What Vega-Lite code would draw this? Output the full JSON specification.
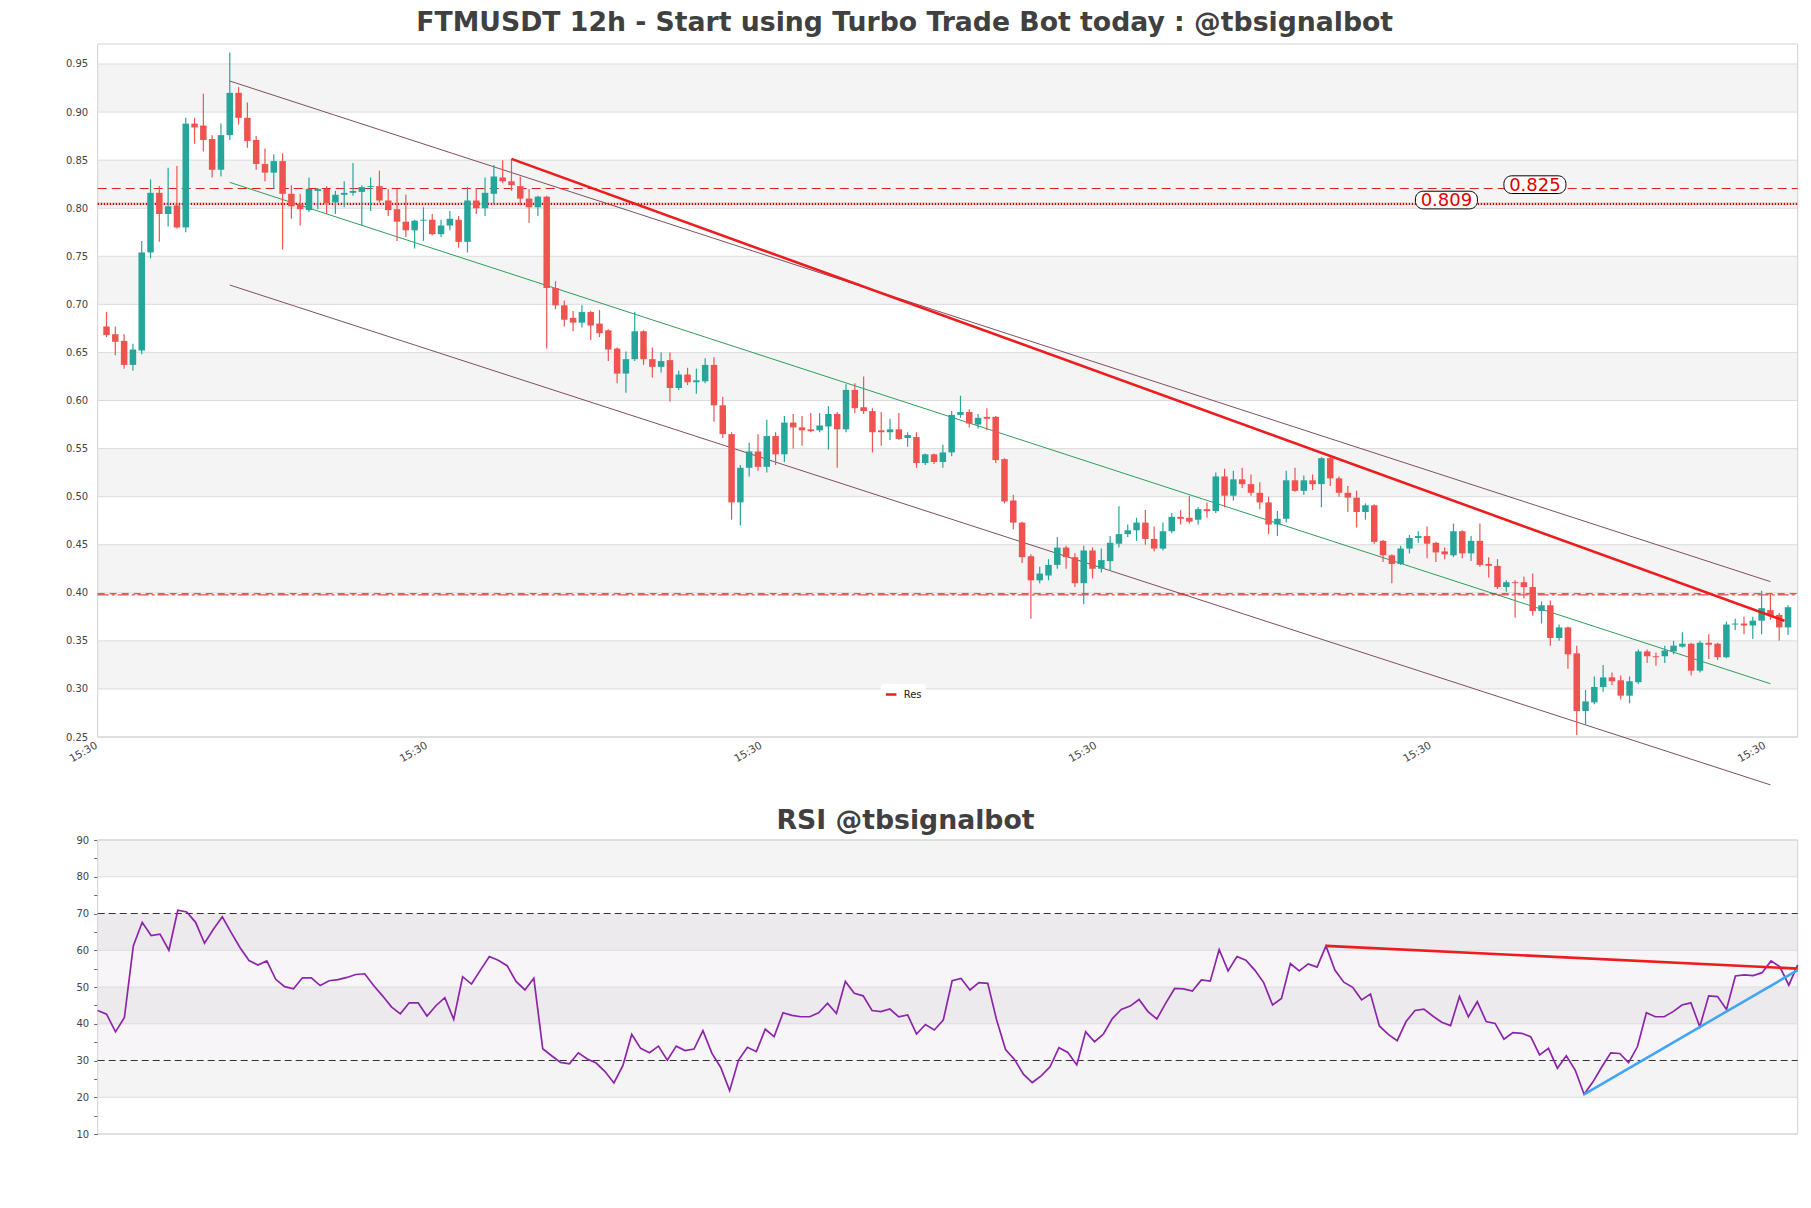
{
"$schema": "https://vega.github.io/schema/vega-lite/v6.json",
"width": 1700,
"height": 1090,
"autosize": {"type": "none"},
"padding": {"left": 97.7, "top": 44, "right": 13.3, "bottom": 74},
"background": "#ffffff",
"config": {"font": "DejaVu Sans", "view": {"stroke": null}, "axis": {"labelFont": "DejaVu Sans"}, "legend": {"labelFont": "DejaVu Sans"}},
"title": {"text": "FTMUSDT 12h - Start using Turbo Trade Bot today : @tbsignalbot", "anchor": "middle", "frame": "group", "dx": -43, "offset": -14.5, "baseline": "alphabetic", "fontSize": 26.7, "fontWeight": "bold", "color": "#404040", "font": "DejaVu Sans"},
"datasets": {
"candles": [
{"i":0,"o":0.677,"h":0.692,"l":0.666,"c":0.668},
{"i":1,"o":0.669,"h":0.677,"l":0.647,"c":0.661},
{"i":2,"o":0.662,"h":0.669,"l":0.633,"c":0.637},
{"i":3,"o":0.637,"h":0.659,"l":0.631,"c":0.653},
{"i":4,"o":0.652,"h":0.766,"l":0.648,"c":0.754},
{"i":5,"o":0.754,"h":0.830,"l":0.748,"c":0.816},
{"i":6,"o":0.816,"h":0.823,"l":0.765,"c":0.794},
{"i":7,"o":0.794,"h":0.842,"l":0.781,"c":0.802},
{"i":8,"o":0.803,"h":0.844,"l":0.779,"c":0.780},
{"i":9,"o":0.780,"h":0.894,"l":0.775,"c":0.888},
{"i":10,"o":0.888,"h":0.894,"l":0.867,"c":0.884},
{"i":11,"o":0.886,"h":0.919,"l":0.859,"c":0.871},
{"i":12,"o":0.872,"h":0.876,"l":0.832,"c":0.840},
{"i":13,"o":0.840,"h":0.888,"l":0.833,"c":0.876},
{"i":14,"o":0.876,"h":0.962,"l":0.871,"c":0.920},
{"i":15,"o":0.920,"h":0.926,"l":0.887,"c":0.894},
{"i":16,"o":0.894,"h":0.910,"l":0.863,"c":0.870},
{"i":17,"o":0.871,"h":0.875,"l":0.840,"c":0.846},
{"i":18,"o":0.846,"h":0.862,"l":0.828,"c":0.837},
{"i":19,"o":0.837,"h":0.856,"l":0.820,"c":0.849},
{"i":20,"o":0.849,"h":0.857,"l":0.757,"c":0.815},
{"i":21,"o":0.815,"h":0.824,"l":0.789,"c":0.802},
{"i":22,"o":0.804,"h":0.815,"l":0.782,"c":0.799},
{"i":23,"o":0.798,"h":0.832,"l":0.796,"c":0.820},
{"i":24,"o":0.818,"h":0.821,"l":0.799,"c":0.820},
{"i":25,"o":0.820,"h":0.823,"l":0.794,"c":0.805},
{"i":26,"o":0.806,"h":0.818,"l":0.794,"c":0.814},
{"i":27,"o":0.814,"h":0.828,"l":0.801,"c":0.816},
{"i":28,"o":0.816,"h":0.847,"l":0.813,"c":0.818},
{"i":29,"o":0.817,"h":0.824,"l":0.782,"c":0.822},
{"i":30,"o":0.822,"h":0.832,"l":0.797,"c":0.823},
{"i":31,"o":0.823,"h":0.839,"l":0.806,"c":0.808},
{"i":32,"o":0.808,"h":0.820,"l":0.792,"c":0.798},
{"i":33,"o":0.799,"h":0.820,"l":0.766,"c":0.786},
{"i":34,"o":0.786,"h":0.814,"l":0.770,"c":0.777},
{"i":35,"o":0.777,"h":0.788,"l":0.758,"c":0.787},
{"i":36,"o":0.787,"h":0.801,"l":0.766,"c":0.788},
{"i":37,"o":0.788,"h":0.794,"l":0.772,"c":0.773},
{"i":38,"o":0.773,"h":0.788,"l":0.770,"c":0.782},
{"i":39,"o":0.782,"h":0.797,"l":0.777,"c":0.789},
{"i":40,"o":0.788,"h":0.792,"l":0.759,"c":0.765},
{"i":41,"o":0.765,"h":0.822,"l":0.754,"c":0.808},
{"i":42,"o":0.808,"h":0.821,"l":0.794,"c":0.800},
{"i":43,"o":0.800,"h":0.832,"l":0.792,"c":0.816},
{"i":44,"o":0.815,"h":0.845,"l":0.804,"c":0.833},
{"i":45,"o":0.832,"h":0.850,"l":0.826,"c":0.828},
{"i":46,"o":0.828,"h":0.851,"l":0.818,"c":0.824},
{"i":47,"o":0.823,"h":0.833,"l":0.803,"c":0.810},
{"i":48,"o":0.810,"h":0.820,"l":0.785,"c":0.801},
{"i":49,"o":0.801,"h":0.813,"l":0.792,"c":0.812},
{"i":50,"o":0.812,"h":0.813,"l":0.654,"c":0.717},
{"i":51,"o":0.717,"h":0.724,"l":0.695,"c":0.699},
{"i":52,"o":0.699,"h":0.704,"l":0.677,"c":0.684},
{"i":53,"o":0.686,"h":0.693,"l":0.672,"c":0.681},
{"i":54,"o":0.681,"h":0.699,"l":0.676,"c":0.692},
{"i":55,"o":0.692,"h":0.693,"l":0.663,"c":0.678},
{"i":56,"o":0.680,"h":0.694,"l":0.666,"c":0.670},
{"i":57,"o":0.673,"h":0.674,"l":0.641,"c":0.653},
{"i":58,"o":0.654,"h":0.655,"l":0.618,"c":0.628},
{"i":59,"o":0.628,"h":0.651,"l":0.608,"c":0.643},
{"i":60,"o":0.643,"h":0.692,"l":0.641,"c":0.672},
{"i":61,"o":0.672,"h":0.673,"l":0.637,"c":0.643},
{"i":62,"o":0.643,"h":0.655,"l":0.624,"c":0.635},
{"i":63,"o":0.635,"h":0.650,"l":0.629,"c":0.641},
{"i":64,"o":0.642,"h":0.650,"l":0.599,"c":0.613},
{"i":65,"o":0.613,"h":0.631,"l":0.611,"c":0.627},
{"i":66,"o":0.627,"h":0.634,"l":0.616,"c":0.619},
{"i":67,"o":0.619,"h":0.633,"l":0.607,"c":0.621},
{"i":68,"o":0.620,"h":0.644,"l":0.618,"c":0.637},
{"i":69,"o":0.637,"h":0.645,"l":0.578,"c":0.595},
{"i":70,"o":0.595,"h":0.604,"l":0.561,"c":0.565},
{"i":71,"o":0.565,"h":0.567,"l":0.476,"c":0.494},
{"i":72,"o":0.494,"h":0.533,"l":0.470,"c":0.530},
{"i":73,"o":0.530,"h":0.556,"l":0.521,"c":0.547},
{"i":74,"o":0.547,"h":0.565,"l":0.527,"c":0.531},
{"i":75,"o":0.531,"h":0.580,"l":0.525,"c":0.563},
{"i":76,"o":0.563,"h":0.567,"l":0.533,"c":0.544},
{"i":77,"o":0.544,"h":0.584,"l":0.536,"c":0.577},
{"i":78,"o":0.577,"h":0.586,"l":0.550,"c":0.572},
{"i":79,"o":0.572,"h":0.584,"l":0.553,"c":0.569},
{"i":80,"o":0.570,"h":0.587,"l":0.567,"c":0.568},
{"i":81,"o":0.569,"h":0.587,"l":0.567,"c":0.574},
{"i":82,"o":0.573,"h":0.594,"l":0.549,"c":0.586},
{"i":83,"o":0.586,"h":0.588,"l":0.530,"c":0.570},
{"i":84,"o":0.570,"h":0.617,"l":0.567,"c":0.611},
{"i":85,"o":0.611,"h":0.618,"l":0.587,"c":0.592},
{"i":86,"o":0.593,"h":0.625,"l":0.586,"c":0.589},
{"i":87,"o":0.589,"h":0.592,"l":0.546,"c":0.567},
{"i":88,"o":0.569,"h":0.588,"l":0.553,"c":0.567},
{"i":89,"o":0.567,"h":0.581,"l":0.559,"c":0.570},
{"i":90,"o":0.570,"h":0.587,"l":0.559,"c":0.560},
{"i":91,"o":0.561,"h":0.567,"l":0.552,"c":0.564},
{"i":92,"o":0.562,"h":0.567,"l":0.530,"c":0.535},
{"i":93,"o":0.535,"h":0.545,"l":0.533,"c":0.544},
{"i":94,"o":0.544,"h":0.545,"l":0.534,"c":0.536},
{"i":95,"o":0.536,"h":0.554,"l":0.530,"c":0.546},
{"i":96,"o":0.546,"h":0.589,"l":0.542,"c":0.585},
{"i":97,"o":0.585,"h":0.605,"l":0.582,"c":0.588},
{"i":98,"o":0.588,"h":0.591,"l":0.572,"c":0.576},
{"i":99,"o":0.575,"h":0.586,"l":0.571,"c":0.582},
{"i":100,"o":0.583,"h":0.592,"l":0.569,"c":0.581},
{"i":101,"o":0.583,"h":0.584,"l":0.535,"c":0.538},
{"i":102,"o":0.539,"h":0.540,"l":0.493,"c":0.495},
{"i":103,"o":0.496,"h":0.502,"l":0.466,"c":0.473},
{"i":104,"o":0.473,"h":0.474,"l":0.431,"c":0.437},
{"i":105,"o":0.438,"h":0.440,"l":0.373,"c":0.413},
{"i":106,"o":0.413,"h":0.427,"l":0.410,"c":0.420},
{"i":107,"o":0.418,"h":0.435,"l":0.413,"c":0.429},
{"i":108,"o":0.429,"h":0.458,"l":0.425,"c":0.447},
{"i":109,"o":0.447,"h":0.449,"l":0.425,"c":0.437},
{"i":110,"o":0.437,"h":0.441,"l":0.406,"c":0.410},
{"i":111,"o":0.410,"h":0.449,"l":0.388,"c":0.444},
{"i":112,"o":0.444,"h":0.447,"l":0.415,"c":0.425},
{"i":113,"o":0.425,"h":0.446,"l":0.421,"c":0.434},
{"i":114,"o":0.433,"h":0.459,"l":0.423,"c":0.452},
{"i":115,"o":0.451,"h":0.490,"l":0.447,"c":0.461},
{"i":116,"o":0.461,"h":0.471,"l":0.458,"c":0.465},
{"i":117,"o":0.465,"h":0.478,"l":0.454,"c":0.473},
{"i":118,"o":0.473,"h":0.486,"l":0.450,"c":0.456},
{"i":119,"o":0.456,"h":0.469,"l":0.443,"c":0.446},
{"i":120,"o":0.446,"h":0.473,"l":0.444,"c":0.464},
{"i":121,"o":0.464,"h":0.483,"l":0.462,"c":0.479},
{"i":122,"o":0.479,"h":0.486,"l":0.471,"c":0.477},
{"i":123,"o":0.478,"h":0.501,"l":0.472,"c":0.474},
{"i":124,"o":0.476,"h":0.489,"l":0.471,"c":0.487},
{"i":125,"o":0.487,"h":0.494,"l":0.478,"c":0.485},
{"i":126,"o":0.485,"h":0.525,"l":0.483,"c":0.521},
{"i":127,"o":0.521,"h":0.529,"l":0.489,"c":0.501},
{"i":128,"o":0.501,"h":0.527,"l":0.496,"c":0.518},
{"i":129,"o":0.518,"h":0.530,"l":0.509,"c":0.513},
{"i":130,"o":0.513,"h":0.523,"l":0.501,"c":0.504},
{"i":131,"o":0.504,"h":0.515,"l":0.487,"c":0.494},
{"i":132,"o":0.494,"h":0.500,"l":0.461,"c":0.471},
{"i":133,"o":0.471,"h":0.485,"l":0.459,"c":0.477},
{"i":134,"o":0.477,"h":0.527,"l":0.473,"c":0.517},
{"i":135,"o":0.517,"h":0.530,"l":0.505,"c":0.506},
{"i":136,"o":0.506,"h":0.522,"l":0.502,"c":0.517},
{"i":137,"o":0.517,"h":0.523,"l":0.507,"c":0.513},
{"i":138,"o":0.513,"h":0.541,"l":0.489,"c":0.540},
{"i":139,"o":0.540,"h":0.543,"l":0.511,"c":0.519},
{"i":140,"o":0.519,"h":0.521,"l":0.500,"c":0.504},
{"i":141,"o":0.504,"h":0.511,"l":0.484,"c":0.499},
{"i":142,"o":0.499,"h":0.506,"l":0.468,"c":0.484},
{"i":143,"o":0.484,"h":0.493,"l":0.476,"c":0.491},
{"i":144,"o":0.491,"h":0.492,"l":0.451,"c":0.453},
{"i":145,"o":0.454,"h":0.455,"l":0.432,"c":0.439},
{"i":146,"o":0.439,"h":0.440,"l":0.410,"c":0.430},
{"i":147,"o":0.430,"h":0.449,"l":0.429,"c":0.446},
{"i":148,"o":0.446,"h":0.460,"l":0.441,"c":0.457},
{"i":149,"o":0.457,"h":0.464,"l":0.452,"c":0.459},
{"i":150,"o":0.459,"h":0.469,"l":0.436,"c":0.451},
{"i":151,"o":0.452,"h":0.453,"l":0.432,"c":0.442},
{"i":152,"o":0.443,"h":0.447,"l":0.435,"c":0.440},
{"i":153,"o":0.439,"h":0.472,"l":0.437,"c":0.464},
{"i":154,"o":0.464,"h":0.465,"l":0.436,"c":0.441},
{"i":155,"o":0.441,"h":0.459,"l":0.433,"c":0.454},
{"i":156,"o":0.454,"h":0.472,"l":0.427,"c":0.429},
{"i":157,"o":0.430,"h":0.437,"l":0.416,"c":0.428},
{"i":158,"o":0.428,"h":0.435,"l":0.404,"c":0.406},
{"i":159,"o":0.406,"h":0.413,"l":0.401,"c":0.411},
{"i":160,"o":0.411,"h":0.413,"l":0.374,"c":0.410},
{"i":161,"o":0.411,"h":0.417,"l":0.394,"c":0.406},
{"i":162,"o":0.406,"h":0.420,"l":0.376,"c":0.381},
{"i":163,"o":0.381,"h":0.391,"l":0.368,"c":0.387},
{"i":164,"o":0.387,"h":0.392,"l":0.345,"c":0.353},
{"i":165,"o":0.353,"h":0.367,"l":0.350,"c":0.364},
{"i":166,"o":0.364,"h":0.365,"l":0.321,"c":0.336},
{"i":167,"o":0.337,"h":0.345,"l":0.252,"c":0.277},
{"i":168,"o":0.277,"h":0.299,"l":0.263,"c":0.287},
{"i":169,"o":0.286,"h":0.313,"l":0.284,"c":0.302},
{"i":170,"o":0.302,"h":0.325,"l":0.297,"c":0.312},
{"i":171,"o":0.312,"h":0.317,"l":0.304,"c":0.308},
{"i":172,"o":0.309,"h":0.314,"l":0.289,"c":0.293},
{"i":173,"o":0.293,"h":0.313,"l":0.285,"c":0.308},
{"i":174,"o":0.307,"h":0.341,"l":0.305,"c":0.339},
{"i":175,"o":0.339,"h":0.341,"l":0.327,"c":0.334},
{"i":176,"o":0.334,"h":0.338,"l":0.324,"c":0.333},
{"i":177,"o":0.334,"h":0.345,"l":0.327,"c":0.340},
{"i":178,"o":0.339,"h":0.350,"l":0.336,"c":0.345},
{"i":179,"o":0.344,"h":0.359,"l":0.343,"c":0.347},
{"i":180,"o":0.347,"h":0.348,"l":0.314,"c":0.319},
{"i":181,"o":0.319,"h":0.350,"l":0.317,"c":0.348},
{"i":182,"o":0.348,"h":0.357,"l":0.331,"c":0.346},
{"i":183,"o":0.347,"h":0.348,"l":0.330,"c":0.333},
{"i":184,"o":0.333,"h":0.370,"l":0.332,"c":0.367},
{"i":185,"o":0.367,"h":0.373,"l":0.361,"c":0.368},
{"i":186,"o":0.368,"h":0.375,"l":0.357,"c":0.366},
{"i":187,"o":0.366,"h":0.375,"l":0.352,"c":0.371},
{"i":188,"o":0.371,"h":0.402,"l":0.357,"c":0.384},
{"i":189,"o":0.382,"h":0.400,"l":0.372,"c":0.376},
{"i":190,"o":0.377,"h":0.379,"l":0.350,"c":0.364},
{"i":191,"o":0.364,"h":0.387,"l":0.356,"c":0.385}
],
"rsi": [
{"i":0,"v":43.6},{"i":1,"v":42.6},{"i":2,"v":37.8},{"i":3,"v":41.7},{"i":4,"v":61.2},{"i":5,"v":67.6},{"i":6,"v":64.0},{"i":7,"v":64.4},{"i":8,"v":60.0},{"i":9,"v":70.9},
{"i":10,"v":70.4},{"i":11,"v":67.6},{"i":12,"v":61.9},{"i":13,"v":65.7},{"i":14,"v":69.1},{"i":15,"v":64.8},{"i":16,"v":60.7},{"i":17,"v":57.2},{"i":18,"v":56.0},{"i":19,"v":57.1},
{"i":20,"v":52.1},{"i":21,"v":50.1},{"i":22,"v":49.5},{"i":23,"v":52.5},{"i":24,"v":52.5},{"i":25,"v":50.4},{"i":26,"v":51.7},{"i":27,"v":52.0},{"i":28,"v":52.6},{"i":29,"v":53.4},
{"i":30,"v":53.6},{"i":31,"v":50.4},{"i":32,"v":47.6},{"i":33,"v":44.6},{"i":34,"v":42.7},{"i":35,"v":45.7},{"i":36,"v":45.7},{"i":37,"v":42.1},{"i":38,"v":44.9},{"i":39,"v":47.1},
{"i":40,"v":41.2},{"i":41,"v":52.8},{"i":42,"v":50.8},{"i":43,"v":54.6},{"i":44,"v":58.3},{"i":45,"v":57.3},{"i":46,"v":55.8},{"i":47,"v":51.5},{"i":48,"v":49.2},{"i":49,"v":52.4},
{"i":50,"v":33.2},{"i":51,"v":31.3},{"i":52,"v":29.5},{"i":53,"v":29.1},{"i":54,"v":32.1},{"i":55,"v":30.4},{"i":56,"v":29.3},{"i":57,"v":27.0},{"i":58,"v":23.9},{"i":59,"v":28.6},
{"i":60,"v":37.1},{"i":61,"v":33.3},{"i":62,"v":32.1},{"i":63,"v":33.9},{"i":64,"v":30.1},{"i":65,"v":33.9},{"i":66,"v":32.7},{"i":67,"v":33.1},{"i":68,"v":38.1},{"i":69,"v":32.0},
{"i":70,"v":28.1},{"i":71,"v":21.8},{"i":72,"v":30.1},{"i":73,"v":33.6},{"i":74,"v":32.4},{"i":75,"v":38.5},{"i":76,"v":36.5},{"i":77,"v":43.0},{"i":78,"v":42.3},{"i":79,"v":41.9},
{"i":80,"v":41.9},{"i":81,"v":43.0},{"i":82,"v":45.6},{"i":83,"v":42.8},{"i":84,"v":51.5},{"i":85,"v":48.3},{"i":86,"v":47.6},{"i":87,"v":43.6},{"i":88,"v":43.3},{"i":89,"v":44.0},
{"i":90,"v":41.9},{"i":91,"v":42.4},{"i":92,"v":37.2},{"i":93,"v":39.8},{"i":94,"v":38.3},{"i":95,"v":41.0},{"i":96,"v":51.7},{"i":97,"v":52.3},{"i":98,"v":49.2},{"i":99,"v":51.2},
{"i":100,"v":51.0},{"i":101,"v":41.0},{"i":102,"v":33.0},{"i":103,"v":30.3},{"i":104,"v":26.3},{"i":105,"v":24.0},{"i":106,"v":25.8},{"i":107,"v":28.3},{"i":108,"v":33.5},{"i":109,"v":32.2},
{"i":110,"v":28.8},{"i":111,"v":37.8},{"i":112,"v":35.1},{"i":113,"v":37.2},{"i":114,"v":41.4},{"i":115,"v":43.9},{"i":116,"v":44.8},{"i":117,"v":46.6},{"i":118,"v":43.3},{"i":119,"v":41.3},
{"i":120,"v":45.6},{"i":121,"v":49.6},{"i":122,"v":49.5},{"i":123,"v":48.9},{"i":124,"v":51.9},{"i":125,"v":51.6},{"i":126,"v":60.2},{"i":127,"v":54.4},{"i":128,"v":58.3},{"i":129,"v":57.3},
{"i":130,"v":54.6},{"i":131,"v":51.2},{"i":132,"v":45.1},{"i":133,"v":46.9},{"i":134,"v":56.4},{"i":135,"v":54.4},{"i":136,"v":56.3},{"i":137,"v":55.4},{"i":138,"v":61.2},{"i":139,"v":54.6},
{"i":140,"v":51.3},{"i":141,"v":49.9},{"i":142,"v":46.5},{"i":143,"v":48.1},{"i":144,"v":39.4},{"i":145,"v":37.1},{"i":146,"v":35.4},{"i":147,"v":40.6},{"i":148,"v":43.6},{"i":149,"v":44.0},
{"i":150,"v":42.1},{"i":151,"v":40.4},{"i":152,"v":39.5},{"i":153,"v":47.4},{"i":154,"v":41.9},{"i":155,"v":46.0},{"i":156,"v":40.6},{"i":157,"v":40.1},{"i":158,"v":35.8},{"i":159,"v":37.6},
{"i":160,"v":37.4},{"i":161,"v":36.5},{"i":162,"v":31.5},{"i":163,"v":33.3},{"i":164,"v":27.9},{"i":165,"v":31.3},{"i":166,"v":27.4},{"i":167,"v":20.8},{"i":168,"v":24.2},{"i":169,"v":28.3},
{"i":170,"v":32.1},{"i":171,"v":31.9},{"i":172,"v":29.4},{"i":173,"v":33.8},{"i":174,"v":43.0},{"i":175,"v":41.9},{"i":176,"v":41.9},{"i":177,"v":43.3},{"i":178,"v":45.1},{"i":179,"v":45.7},
{"i":180,"v":39.2},{"i":181,"v":47.6},{"i":182,"v":47.4},{"i":183,"v":43.9},{"i":184,"v":53.0},{"i":185,"v":53.3},{"i":186,"v":53.1},{"i":187,"v":53.9},{"i":188,"v":57.1},{"i":189,"v":55.5},
{"i":190,"v":50.5},{"i":191,"v":56.0}
],
"pbands": [{"y1":0.90,"y2":0.95},{"y1":0.80,"y2":0.85},{"y1":0.70,"y2":0.75},{"y1":0.60,"y2":0.65},{"y1":0.50,"y2":0.55},{"y1":0.40,"y2":0.45},{"y1":0.30,"y2":0.35}],
"pgrid": [{"v":0.25},{"v":0.30},{"v":0.35},{"v":0.40},{"v":0.45},{"v":0.50},{"v":0.55},{"v":0.60},{"v":0.65},{"v":0.70},{"v":0.75},{"v":0.80},{"v":0.85},{"v":0.90},{"v":0.95}],
"pframe": [{"x1":-1,"x2":192.1,"y1":0.25,"y2":0.9708}],
"trend": [{"name":"upper","i":14,"v":0.9323},{"name":"upper","i":189,"v":0.4116},{"name":"mid","i":14,"v":0.8269},{"name":"mid","i":189,"v":0.3054},{"name":"lower","i":14,"v":0.7201},{"name":"lower","i":189,"v":0.2002},{"name":"res","i":46,"v":0.8513},{"name":"res","i":190.6,"v":0.3708}],
"levels": [{"name":"l825","v":0.8205},{"name":"l809","v":0.8045},{"name":"s1","v":0.3990},{"name":"s2","v":0.3978}],
"lvlabels": [{"i":152.2,"v":0.8085,"t":"0.809"},{"i":162.25,"v":0.8245,"t":"0.825"}],
"rbands": [{"y1":80,"y2":90},{"y1":60,"y2":70},{"y1":40,"y2":50},{"y1":20,"y2":30}],
"rzone": [{"y1":30,"y2":70}],
"rgrid": [{"v":10},{"v":20},{"v":40},{"v":50},{"v":60},{"v":80},{"v":90}],
"rlevels": [{"v":70},{"v":30}],
"rframe": [{"x1":0,"x2":191,"y1":10,"y2":90}],
"rtrend": [{"name":"down","i":138,"v":61.2},{"name":"down","i":191,"v":55.0},{"name":"up","i":167,"v":20.8},{"name":"up","i":191,"v":54.6}],
"rtitle": [{"i":90.76,"v":93.0,"t":"RSI @tbsignalbot"}]
},
"layer": [
{"data":{"name":"pbands"},"mark":{"type":"rect","fill":"#f4f4f4"},
 "encoding":{"x":{"datum":-1,"type":"quantitative","scale":{"domain":[-1,192.1],"nice":false,"zero":false,"padding":0},"axis":null},"x2":{"datum":192.1},
 "y":{"field":"y1","type":"quantitative","scale":{"domain":[0.25,0.9708],"range":[693,0],"nice":false,"zero":false,"padding":0},"axis":null},"y2":{"field":"y2"}}},
{"data":{"name":"pgrid"},"mark":{"type":"rule","stroke":"#dcdcdc","strokeWidth":1},
 "encoding":{"x":{"datum":-1,"type":"quantitative","scale":{"domain":[-1,192.1],"nice":false,"zero":false,"padding":0},"axis":null},"x2":{"datum":192.1},
 "y":{"field":"v","type":"quantitative","scale":{"domain":[0.25,0.9708],"range":[693,0],"nice":false,"zero":false,"padding":0},"axis":null}}},
{"data":{"name":"pframe"},"mark":{"type":"rect","fill":"#ffffff","fillOpacity":0,"stroke":"#d2d2d2","strokeWidth":1},
 "encoding":{"x":{"field":"x1","type":"quantitative","scale":{"domain":[-1,192.1],"nice":false,"zero":false,"padding":0},"axis":null},"x2":{"field":"x2"},
 "y":{"field":"y1","type":"quantitative","scale":{"domain":[0.25,0.9708],"range":[693,0],"nice":false,"zero":false,"padding":0},"axis":null},"y2":{"field":"y2"}}},
{"data":{"name":"trend"},"transform":[{"filter":"datum.name === 'upper' || datum.name === 'lower'"}],"mark":{"type":"line","stroke":"#7e4f60","strokeWidth":1},
 "encoding":{"x":{"field":"i","type":"quantitative","scale":{"domain":[-1,192.1],"nice":false,"zero":false,"padding":0},"axis":null},
 "y":{"field":"v","type":"quantitative","scale":{"domain":[0.25,0.9708],"range":[693,0],"nice":false,"zero":false,"padding":0},"axis":null},"detail":{"field":"name"}}},
{"data":{"name":"trend"},"transform":[{"filter":"datum.name === 'mid'"}],"mark":{"type":"line","stroke":"#2e9d5b","strokeWidth":1},
 "encoding":{"x":{"field":"i","type":"quantitative","scale":{"domain":[-1,192.1],"nice":false,"zero":false,"padding":0},"axis":null},
 "y":{"field":"v","type":"quantitative","scale":{"domain":[0.25,0.9708],"range":[693,0],"nice":false,"zero":false,"padding":0},"axis":null}}},
{"data":{"name":"levels"},"transform":[{"filter":"datum.name === 'l825'"}],"mark":{"type":"rule","stroke":"#e02020","strokeWidth":1,"strokeDash":[9,5]},
 "encoding":{"x":{"datum":-1,"type":"quantitative","scale":{"domain":[-1,192.1],"nice":false,"zero":false,"padding":0},"axis":null},"x2":{"datum":192.1},
 "y":{"field":"v","type":"quantitative","scale":{"domain":[0.25,0.9708],"range":[693,0],"nice":false,"zero":false,"padding":0},"axis":null}}},
{"data":{"name":"levels"},"transform":[{"filter":"datum.name === 'l809'"}],"mark":{"type":"rule","stroke":"#d80000","strokeWidth":2.2,"strokeDash":[1.5,1.5]},
 "encoding":{"x":{"datum":-1,"type":"quantitative","scale":{"domain":[-1,192.1],"nice":false,"zero":false,"padding":0},"axis":null},"x2":{"datum":192.1},
 "y":{"field":"v","type":"quantitative","scale":{"domain":[0.25,0.9708],"range":[693,0],"nice":false,"zero":false,"padding":0},"axis":null}}},
{"data":{"name":"levels"},"transform":[{"filter":"datum.name === 's1'"}],"mark":{"type":"rule","stroke":"#e02020","strokeWidth":1,"strokeDash":[7,5]},
 "encoding":{"x":{"datum":-1,"type":"quantitative","scale":{"domain":[-1,192.1],"nice":false,"zero":false,"padding":0},"axis":null},"x2":{"datum":192.1},
 "y":{"field":"v","type":"quantitative","scale":{"domain":[0.25,0.9708],"range":[693,0],"nice":false,"zero":false,"padding":0},"axis":null}}},
{"data":{"name":"levels"},"transform":[{"filter":"datum.name === 's2'"}],"mark":{"type":"rule","stroke":"#e02020","strokeWidth":1,"strokeDash":[11,3,3,3]},
 "encoding":{"x":{"datum":-1,"type":"quantitative","scale":{"domain":[-1,192.1],"nice":false,"zero":false,"padding":0},"axis":null},"x2":{"datum":192.1},
 "y":{"field":"v","type":"quantitative","scale":{"domain":[0.25,0.9708],"range":[693,0],"nice":false,"zero":false,"padding":0},"axis":null}}},
{"data":{"name":"candles"},"mark":{"type":"rule","strokeWidth":1.2},
 "encoding":{"x":{"field":"i","type":"quantitative","scale":{"domain":[-1,192.1],"nice":false,"zero":false,"padding":0},"title":null,
   "axis":{"orient":"bottom","values":[-1,36.5,74.5,112.5,150.5,188.5],"labelExpr":"'15:30'","labelAngle":-30,"labelAlign":"right","labelBaseline":"top","labelOffset":-4,"labelPadding":3,"ticks":false,"domain":false,"grid":false,"offset":-397,"labelFontSize":10.5,"labelColor":"#444444","labelFlush":false,"labelOverlap":false,"title":null}},
 "y":{"field":"l","type":"quantitative","scale":{"domain":[0.25,0.9708],"range":[693,0],"nice":false,"zero":false,"padding":0},"title":null,
   "axis":{"orient":"left","values":[0.25,0.30,0.35,0.40,0.45,0.50,0.55,0.60,0.65,0.70,0.75,0.80,0.85,0.90,0.95],"format":".2f","ticks":false,"domain":false,"grid":false,"labelPadding":10,"labelFontSize":10,"labelColor":"#444444","labelFlush":false,"labelOverlap":false,"title":null}},
 "y2":{"field":"h"},
 "color":{"condition":{"test":"datum.c >= datum.o","value":"#26a69a"},"value":"#ef5350"}}},
{"data":{"name":"candles"},"mark":{"type":"bar","width":6.5},
 "encoding":{"x":{"field":"i","type":"quantitative","scale":{"domain":[-1,192.1],"nice":false,"zero":false,"padding":0},"axis":null},
 "y":{"field":"o","type":"quantitative","scale":{"domain":[0.25,0.9708],"range":[693,0],"nice":false,"zero":false,"padding":0},"axis":null},
 "y2":{"field":"c"},
 "color":{"condition":{"test":"datum.c >= datum.o","value":"#26a69a"},"value":"#ef5350"}}},
{"data":{"name":"trend"},"transform":[{"filter":"datum.name === 'res'"}],"mark":{"type":"line","strokeWidth":2.6},
 "encoding":{"x":{"field":"i","type":"quantitative","scale":{"domain":[-1,192.1],"nice":false,"zero":false,"padding":0},"axis":null},
 "y":{"field":"v","type":"quantitative","scale":{"domain":[0.25,0.9708],"range":[693,0],"nice":false,"zero":false,"padding":0},"axis":null},
 "color":{"datum":"Res","type":"nominal","scale":{"domain":["Res"],"range":["#ee1c1c"]},
   "legend":{"orient":"none","legendX":783,"legendY":640,"title":null,"symbolType":"stroke","symbolStrokeWidth":2.5,"symbolSize":110,"labelFontSize":10,"labelColor":"#222222","fillColor":"#ffffff","padding":4,"cornerRadius":3,"labelOffset":6}}}},
{"data":{"name":"lvlabels"},"mark":{"type":"point","filled":true,"fill":"#ffffff","stroke":"#000000","strokeWidth":1,"opacity":1,"size":3844,
   "shape":"M-0.75,-0.285L0.75,-0.285A0.25,0.25,0,0,1,1,-0.035L1,0.035A0.25,0.25,0,0,1,0.75,0.285L-0.75,0.285A0.25,0.25,0,0,1,-1,0.035L-1,-0.035A0.25,0.25,0,0,1,-0.75,-0.285Z"},
 "encoding":{"x":{"field":"i","type":"quantitative","scale":{"domain":[-1,192.1],"nice":false,"zero":false,"padding":0},"axis":null},
 "y":{"field":"v","type":"quantitative","scale":{"domain":[0.25,0.9708],"range":[693,0],"nice":false,"zero":false,"padding":0},"axis":null}}},
{"data":{"name":"lvlabels"},"mark":{"type":"text","fontSize":18,"color":"#e00000","align":"center","baseline":"middle","font":"DejaVu Sans","dy":1},
 "encoding":{"x":{"field":"i","type":"quantitative","scale":{"domain":[-1,192.1],"nice":false,"zero":false,"padding":0},"axis":null},
 "y":{"field":"v","type":"quantitative","scale":{"domain":[0.25,0.9708],"range":[693,0],"nice":false,"zero":false,"padding":0},"axis":null},
 "text":{"field":"t"}}},
{"data":{"name":"rbands"},"mark":{"type":"rect","fill":"#f4f4f4"},
 "encoding":{"x":{"datum":0,"type":"quantitative","scale":{"domain":[0,191],"nice":false,"zero":false,"padding":0},"axis":null},"x2":{"datum":191},
 "y":{"field":"y1","type":"quantitative","scale":{"domain":[10,90],"range":[1090,796],"nice":false,"zero":false,"padding":0},"axis":null},"y2":{"field":"y2"}}},
{"data":{"name":"rzone"},"mark":{"type":"rect","fill":"#a070b0","opacity":0.07},
 "encoding":{"x":{"datum":0,"type":"quantitative","scale":{"domain":[0,191],"nice":false,"zero":false,"padding":0},"axis":null},"x2":{"datum":191},
 "y":{"field":"y1","type":"quantitative","scale":{"domain":[10,90],"range":[1090,796],"nice":false,"zero":false,"padding":0},"axis":null},"y2":{"field":"y2"}}},
{"data":{"name":"rgrid"},"mark":{"type":"rule","stroke":"#dcdcdc","strokeWidth":1},
 "encoding":{"x":{"datum":0,"type":"quantitative","scale":{"domain":[0,191],"nice":false,"zero":false,"padding":0},"axis":null},"x2":{"datum":191},
 "y":{"field":"v","type":"quantitative","scale":{"domain":[10,90],"range":[1090,796],"nice":false,"zero":false,"padding":0},"axis":null}}},
{"data":{"name":"rframe"},"mark":{"type":"rect","fill":"#ffffff","fillOpacity":0,"stroke":"#d2d2d2","strokeWidth":1},
 "encoding":{"x":{"field":"x1","type":"quantitative","scale":{"domain":[0,191],"nice":false,"zero":false,"padding":0},"axis":null},"x2":{"field":"x2"},
 "y":{"field":"y1","type":"quantitative","scale":{"domain":[10,90],"range":[1090,796],"nice":false,"zero":false,"padding":0},"axis":null},"y2":{"field":"y2"}}},
{"data":{"name":"rlevels"},"mark":{"type":"rule","stroke":"#333333","strokeWidth":1.2,"strokeDash":[7,4]},
 "encoding":{"x":{"datum":0,"type":"quantitative","scale":{"domain":[0,191],"nice":false,"zero":false,"padding":0},"axis":null},"x2":{"datum":191},
 "y":{"field":"v","type":"quantitative","scale":{"domain":[10,90],"range":[1090,796],"nice":false,"zero":false,"padding":0},"axis":null}}},
{"data":{"name":"rsi"},"mark":{"type":"line","stroke":"#8e24aa","strokeWidth":1.7},
 "encoding":{"x":{"field":"i","type":"quantitative","scale":{"domain":[0,191],"nice":false,"zero":false,"padding":0},"axis":null},
 "y":{"field":"v","type":"quantitative","scale":{"domain":[10,90],"range":[1090,796],"nice":false,"zero":false,"padding":0},"title":null,
   "axis":{"orient":"left","values":[10,15,20,25,30,35,40,45,50,55,60,65,70,75,80,85,90],"labelExpr":"datum.value % 10 === 0 ? datum.label : ''","ticks":true,"tickSize":4,"tickColor":"#666666","labelPadding":5,"domain":false,"grid":false,"labelFontSize":10,"labelColor":"#444444","labelFlush":false,"labelOverlap":false,"title":null}}}},
{"data":{"name":"rtrend"},"transform":[{"filter":"datum.name === 'down'"}],"mark":{"type":"line","stroke":"#ee1c1c","strokeWidth":2.6},
 "encoding":{"x":{"field":"i","type":"quantitative","scale":{"domain":[0,191],"nice":false,"zero":false,"padding":0},"axis":null},
 "y":{"field":"v","type":"quantitative","scale":{"domain":[10,90],"range":[1090,796],"nice":false,"zero":false,"padding":0},"axis":null}}},
{"data":{"name":"rtrend"},"transform":[{"filter":"datum.name === 'up'"}],"mark":{"type":"line","stroke":"#42a5f5","strokeWidth":2.6},
 "encoding":{"x":{"field":"i","type":"quantitative","scale":{"domain":[0,191],"nice":false,"zero":false,"padding":0},"axis":null},
 "y":{"field":"v","type":"quantitative","scale":{"domain":[10,90],"range":[1090,796],"nice":false,"zero":false,"padding":0},"axis":null}}},
{"data":{"name":"rtitle"},"mark":{"type":"text","fontSize":26.7,"fontWeight":"bold","color":"#404040","align":"center","baseline":"alphabetic","font":"DejaVu Sans"},
 "encoding":{"x":{"field":"i","type":"quantitative","scale":{"domain":[0,191],"nice":false,"zero":false,"padding":0},"axis":null},
 "y":{"field":"v","type":"quantitative","scale":{"domain":[10,90],"range":[1090,796],"nice":false,"zero":false,"padding":0},"axis":null},
 "text":{"field":"t"}}}
],
"resolve": {"scale": {"x": "independent", "y": "independent"}, "axis": {"x": "independent", "y": "independent"}}
}
